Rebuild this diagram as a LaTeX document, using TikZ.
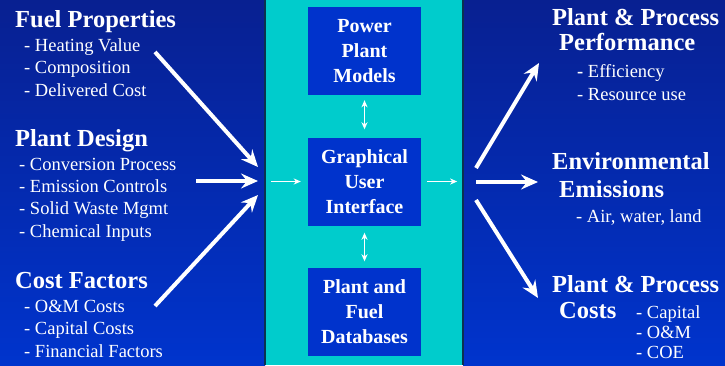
\documentclass[tikz,border=0pt]{standalone}
\usepackage{fontspec}
\setmainfont{Liberation Serif}
\usetikzlibrary{arrows.meta}
\definecolor{navytop}{RGB}{8,32,145}
\definecolor{navybot}{RGB}{0,52,205}
\definecolor{tealbg}{RGB}{0,204,204}
\definecolor{boxblue}{RGB}{0,51,204}
\definecolor{edgeline}{RGB}{10,50,80}
\begin{document}
\begin{tikzpicture}[x=1pt,y=-1pt,
  head/.style={text=white,inner sep=0pt,anchor=base west,align=left,
    font=\fontsize{24.5}{25}\selectfont\bfseries},
  items/.style={text=white,inner sep=0pt,anchor=base west,align=left,
    font=\fontsize{18.5}{22.2}\selectfont},
  box/.style={fill=boxblue,text=white,minimum width=113pt,minimum height=88pt,
    align=center,inner sep=0pt,font=\fontsize{20}{25}\selectfont\bfseries},
  bigarrow/.style={white,line width=4pt,-{Stealth[length=17pt,width=15pt,inset=6pt]}},
  thinarrow/.style={white,line width=1.6pt,-{Stealth[length=7pt,width=6pt,inset=2pt]}},
  twoway/.style={white,line width=1.6pt,{Stealth[length=7pt,width=6pt,inset=2pt]}-{Stealth[length=7pt,width=6pt,inset=2pt]}}]
\useasboundingbox (0,0) rectangle (725,365);

% panels
\shade[top color=navytop,bottom color=navybot] (0,0) rectangle (265,365);
\shade[top color=navytop,bottom color=navybot] (463,0) rectangle (725,365);
\fill[tealbg] (265,0) rectangle (463,365);
\draw[edgeline,line width=1.5pt] (265,0) -- (265,365);
\draw[edgeline,line width=1.5pt] (463,0) -- (463,365);

% inputs (lists sit on the baseline of their last line)
\node[head] (fuelhead) at (15,27) {Fuel Properties};
\node[items] (fuellist) at (24,96) {- Heating Value\\- Composition\\- Delivered Cost};
\node[head] (designhead) at (15,146) {Plant Design};
\node[items] (designlist) at (19,237) {- Conversion Process\\- Emission Controls\\- Solid Waste Mgmt\\- Chemical Inputs};
\node[head] (costhead) at (15,288) {Cost Factors};
\node[items] (costlist) at (24,357) {- O\&M Costs\\- Capital Costs\\- Financial Factors};

% centre boxes
\node[box] (models) at (364.5,51) {Power\\Plant\\Models};
\node[box] (gui) at (364.5,181.5) {Graphical\\User\\Interface};
\node[box] (dbase) at (364.5,311.5) {Plant and\\Fuel\\Databases};

\draw[twoway] ([yshift=-5pt]models.south) -- ([yshift=8pt]gui.north);
\draw[twoway] ([yshift=-7pt]gui.south) -- ([yshift=6pt]dbase.north);
\draw[thinarrow] ([xshift=-37pt]gui.west) -- ([xshift=-7pt]gui.west);
\draw[thinarrow] ([xshift=6pt]gui.east) -- ([xshift=36pt]gui.east);

% outputs
\node[head] (perfhead) at (552,50) {Plant \& Process\\\hspace*{7pt}Performance};
\node[items] (perflist) at (577,100) {\textbf{-} Efficiency\\- Resource use};
\node[head] (envhead) at (552,197) {Environmental\\[3pt]\hspace*{7pt}Emissions};
\node[items] (envlist) at (576,222) {- Air, water, land};
\node[head] (pphead) at (552,318) {Plant \& Process\\[1pt]\hspace*{7pt}Costs};
\node[items,font=\fontsize{18.5}{20}\selectfont] (pplist) at (636,358) {- Capital\\- O\&M\\- COE};

% big arrows
\coordinate (fueltail) at (155,52);
\coordinate (fueltip) at (258,167);
\coordinate (designtail) at (196,181);
\coordinate (designtip) at (258,181);
\coordinate (costtail) at (155,306);
\coordinate (costtip) at (258,195);
\draw[bigarrow] (fueltail) -- (fueltip);
\draw[bigarrow] (designtail) -- (designtip);
\draw[bigarrow] (costtail) -- (costtip);

\coordinate (perftail) at (476,168);
\coordinate (perftip) at (539,63);
\coordinate (envtail) at (476,182);
\coordinate (envtip) at (538,182);
\coordinate (pptail) at (476,200);
\coordinate (pptip) at (538,298);
\draw[bigarrow] (perftail) -- (perftip);
\draw[bigarrow] (envtail) -- (envtip);
\draw[bigarrow] (pptail) -- (pptip);
\end{tikzpicture}
\end{document}
